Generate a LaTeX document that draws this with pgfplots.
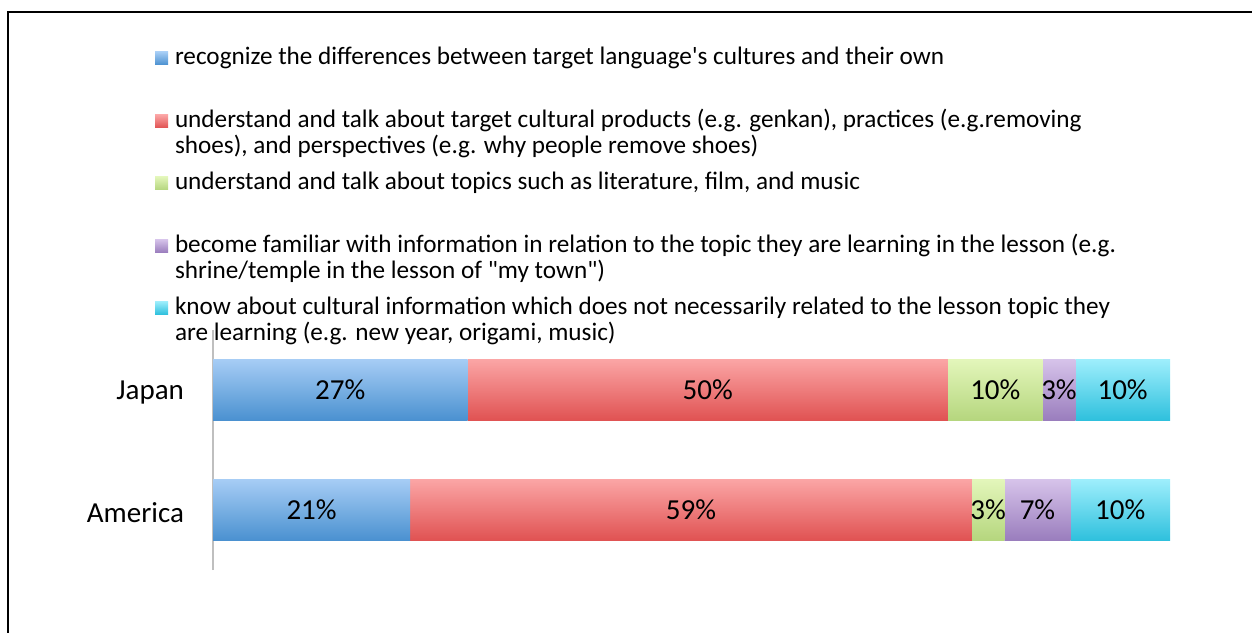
\documentclass[border=0pt]{standalone}
\usepackage{fontspec}
\setmainfont{Carlito}
\usepackage{pgfplots}
\pgfplotsset{compat=1.18}

\definecolor{bluetop}{HTML}{A6CDF5}\definecolor{bluebot}{HTML}{4A90D0}
\definecolor{redtop}{HTML}{FBA5A5}\definecolor{redbot}{HTML}{E05252}
\definecolor{greentop}{HTML}{E3F6BA}\definecolor{greenbot}{HTML}{B5D67E}
\definecolor{purptop}{HTML}{D6C3EA}\definecolor{purpbot}{HTML}{9A7DBD}
\definecolor{cyantop}{HTML}{9EEEFC}\definecolor{cyanbot}{HTML}{2EC0DD}

% one bar per path, so that every bar gets its own top-to-bottom gradient
\pgfplotsset{
  barsaxis/.style={
    at={(106.5pt,31pt)}, anchor=south west,
    scale only axis,
    width=478.5pt, height=120pt,
    xbar stacked,
    bar width=30.5pt,
    xmin=0, xmax=100,
    ymin=-0.5, ymax=1.5,
    clip=false,
    point meta=explicit symbolic,
    nodes near coords={\pgfplotspointmeta\%},
    every node near coord/.append style={font=\fontsize{14.5}{16}\selectfont, black},
  },
  sb/.style={draw=none, top color=bluetop, bottom color=bluebot},
  sr/.style={draw=none, top color=redtop, bottom color=redbot},
  sg/.style={draw=none, top color=greentop, bottom color=greenbot},
  sp/.style={draw=none, top color=purptop, bottom color=purpbot},
  sc/.style={draw=none, top color=cyantop, bottom color=cyanbot},
}

\begin{document}
\begin{tikzpicture}
\useasboundingbox (0pt,0pt) rectangle (626pt,316pt);
% frame (only its left and top edges are in view)
\draw[line width=1pt] (4pt,-2pt) -- (4pt,310pt) -- (630pt,310pt);

% --- Japan, with the axis line, tick labels and legend ---
\begin{axis}[
    barsaxis,
    ytick={0,1},
    yticklabels={America,Japan},
    major tick length=0pt,
    y tick label style={font=\fontsize{14.5}{16}\selectfont, xshift=-11pt, yshift=-1.5pt},
    axis x line=none,
    axis y line=left,
    axis line style={-, draw=black!25, line width=0.6pt},
    legend cell align=left,
    legend style={
        draw=none, fill=none,
        at={(-0.0606,2.1775)}, anchor=north west,
        inner sep=0pt, outer sep=0pt,
        row sep=5.3pt,
        cells={anchor=base west},
        nodes={inner sep=0pt, text depth={}},
        font=\fontsize{12.6}{13}\selectfont,
    },
    legend image code/.code={
        \path[#1, draw=none] (0pt,0pt) rectangle (6.5pt,6.5pt);
    },
]
\addplot[sb] coordinates {(26.6,1) [27]};
\addplot[sr] coordinates {(50.2,1) [50]};
\addplot[sg] coordinates {(9.9,1) [10]};
\addplot[sp] coordinates {(3.4,1) [3]};
\addplot[sc] coordinates {(9.9,1) [10]};

\addlegendentry{\hspace{3.5pt}\parbox[t]{520pt}{recognize the differences between target language\textquotesingle s cultures and their own\\\mbox{}\strut}}
\addlegendentry{\hspace{3.5pt}\parbox[t]{520pt}{understand and talk about target cultural products (e.g. genkan), practices (e.g.removing\\shoes), and perspectives (e.g. why people remove shoes)\strut}}
\addlegendentry{\hspace{3.5pt}\parbox[t]{520pt}{understand and talk about topics such as literature, film, and music\\\mbox{}\strut}}
\addlegendentry{\hspace{3.5pt}\parbox[t]{520pt}{become familiar with information in relation to the topic they are learning in the lesson (e.g.\\shrine/temple in the lesson of \textquotedbl my town\textquotedbl)\strut}}
\addlegendentry{\hspace{3.5pt}\parbox[t]{520pt}{know about cultural information which does not necessarily related to the lesson topic they\\are learning (e.g. new year, origami, music)\strut}}
\end{axis}

% --- America ---
\begin{axis}[barsaxis, hide axis]
\addplot[sb] coordinates {(20.6,0) [21]};
\addplot[sr] coordinates {(58.7,0) [59]};
\addplot[sg] coordinates {(3.4,0) [3]};
\addplot[sp] coordinates {(6.9,0) [7]};
\addplot[sc] coordinates {(10.4,0) [10]};
\end{axis}
\end{tikzpicture}
\end{document}
